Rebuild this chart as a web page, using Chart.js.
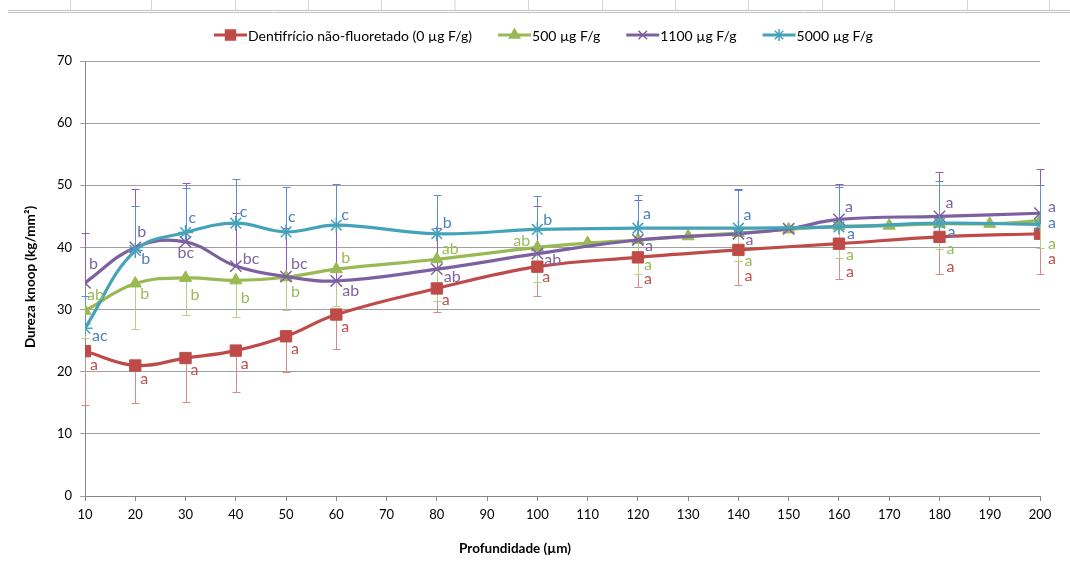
<!DOCTYPE html>
<html>
<head>
<meta charset="utf-8">
<script src="https://cdn.jsdelivr.net/npm/chart.js@4.4.1/dist/chart.umd.min.js"></script>
<style>
html,body{margin:0;padding:0;background:#fff;}
#wrap{width:1070px;height:571px;position:relative;}
</style>
</head>
<body>
<div id="wrap"><canvas id="c"></canvas></div>
<script>
// ---- data ----
const depths = [10,20,30,40,50,60,70,80,90,100,110,120,130,140,150,160,170,180,190,200];
const seriesNames = ['Dentifrício não-fluoretado (0 µg F/g)','500 µg F/g','1100 µg F/g','5000 µg F/g'];
const yTicks = [0,10,20,30,40,50,60,70];

const red    = [23.3,21.0,22.2,23.4,25.7,29.2,null,33.4,null,36.9,null,38.4,null,39.6,null,40.6,null,41.7,null,42.2];
const green  = [29.8,34.2,35.1,34.7,35.2,36.5,null,38.1,null,40.0,40.7,41.2,41.8,42.3,42.9,43.4,43.5,43.8,43.8,44.3];
const purple = [34.3,40.0,40.9,37.0,35.3,34.6,null,36.5,null,39.0,null,41.2,null,42.2,43.0,44.5,null,45.0,null,45.5];
const cyan   = [27.0,39.5,42.4,43.9,42.5,43.6,null,42.2,null,42.9,null,43.1,null,43.1,null,43.3,null,43.9,null,43.7];

// error bar end values (red/green: lower bars, purple/cyan: upper bars)
const redLow     = [14.7,14.9,15.1,16.7,20.0,23.6,null,29.6,null,32.2,null,33.7,null,34.0,null,34.9,null,35.8,null,35.8];
const greenLow   = [25.5,26.8,29.1,28.8,30.0,30.5,null,31.3,null,34.5,null,35.7,null,37.8,null,38.3,null,39.7,null,39.9];
const purpleHigh = [42.4,49.4,50.3,45.6,43.1,43.6,null,43.1,null,46.6,null,47.7,null,49.4,null,50.2,null,52.2,null,52.6];
const cyanHigh   = [32.2,46.7,49.6,51.0,49.7,50.2,null,48.4,null,48.2,null,48.5,null,49.2,null,49.8,null,50.7,null,50.0];

// significance letters
const redLetters    = ['a','a','a','a','a','a',null,'a',null,'a',null,'a',null,'a',null,'a',null,'a',null,'a'];
const greenLetters  = ['ab','b','b','b','b','b',null,'ab',null,'ab',null,'a',null,'a',null,'a',null,'a',null,'a'];
const purpleLetters = ['b','b','bc','bc','bc','ab',null,'ab',null,'ab',null,'a',null,'a',null,'a',null,'a',null,'a'];
const cyanLetters   = ['ac','b','c','c','c','c',null,'b',null,'b',null,'a',null,'a',null,'a',null,'a',null,'a'];

// letter placement offsets [dx, dy] (layout only)
const redOff    = [[5,14],[5,13],[5,12],[5,13],[5,13],[5,12],null,[5,11],null,[5,10],null,[6,21],null,[6,26],null,[7,28],null,[7,30],null,[8,25]];
const greenOff  = [[2,-16],[5,10],[5,17],[5,17],[5,15],[5,-11],null,[5,-10],null,[-24,-7],null,[6,25],null,[6,28],null,[7,29],null,[7,25],null,[8,23]];
const purpleOff = [[4,-19],[2,-16],[-8,11],[7,-7],[5,-13],[6,10],null,[7,8],null,[7,6],null,[7,6],null,[7,6],null,[6,-13],null,[6,-14],null,[8,-6]];
const cyanOff   = [[7,8],[6,8],[3,-15],[4,-11],[2,-15],[5,-10],null,[6,-11],null,[6,-10],null,[5,-14],null,[5,-13],null,[8,7],null,[8,9],null,[8,-2]];

const pts = arr => depths.map((d,i)=>arr[i]==null?null:{x:d,y:arr[i]}).filter(p=>p);

const COL = {
  red:'#BE4B48', green:'#98B954', purple:'#7D60A0', cyan:'#45A2BB',
  redBar:'#D88A88', greenBar:'#B5CF85', purpleBar:'#8E5BC6', cyanBar:'#5B8DD2',
  redTxt:'#C0504D', greenTxt:'#9BBB59', purpleTxt:'#8064A2', cyanTxt:'#4F81BD'
};
const FONT = 'Lato, "Open Sans", "Liberation Sans", sans-serif';

const barSets = [
  {vals:red, ends:redLow, color:COL.redBar},
  {vals:green, ends:greenLow, color:COL.greenBar},
  {vals:purple, ends:purpleHigh, color:COL.purpleBar},
  {vals:cyan, ends:cyanHigh, color:COL.cyanBar}
];
const letterSets = [
  {vals:red, txt:redLetters, off:redOff, color:COL.redTxt},
  {vals:green, txt:greenLetters, off:greenOff, color:COL.greenTxt},
  {vals:purple, txt:purpleLetters, off:purpleOff, color:COL.purpleTxt},
  {vals:cyan, txt:cyanLetters, off:cyanOff, color:COL.cyanTxt}
];

const sheetCols = [70,151,235,308,381,454.5,528,602,675,748,822,894,967,1049];

const decoPlugin = {
  id:'deco',
  beforeDraw(chart){
    const ctx = chart.ctx;
    ctx.save();
    ctx.fillStyle='#fff'; ctx.fillRect(0,0,chart.width,chart.height);
    ctx.strokeStyle='#D4D4D4'; ctx.lineWidth=1;
    sheetCols.forEach(x=>{ctx.beginPath();ctx.moveTo(x+0.5,0);ctx.lineTo(x+0.5,10);ctx.stroke();});
    ctx.strokeStyle='#C4C4C4';
    [10.5,12.5].forEach(y=>{ctx.beginPath();ctx.moveTo(8,y);ctx.lineTo(1070,y);ctx.stroke();});
    ctx.restore();
  },
  beforeDatasetsDraw(chart){
    const ctx = chart.ctx, xs = chart.scales.x, ys = chart.scales.y;
    ctx.save();
    ctx.lineWidth = 1;
    barSets.forEach(s=>{
      ctx.strokeStyle = s.color;
      depths.forEach((d,i)=>{
        if(s.vals[i]==null || s.ends[i]==null) return;
        const x = Math.round(xs.getPixelForValue(d))+0.5;
        const y0 = ys.getPixelForValue(s.vals[i]);
        const y1 = Math.round(ys.getPixelForValue(s.ends[i]))+0.5;
        ctx.beginPath(); ctx.moveTo(x,y0); ctx.lineTo(x,y1);
        ctx.moveTo(x-4,y1); ctx.lineTo(x+4,y1); ctx.stroke();
      });
    });
    ctx.restore();
  },
  afterDatasetsDraw(chart){
    const ctx = chart.ctx, xs = chart.scales.x, ys = chart.scales.y;
    ctx.save();
    ctx.font = '16px '+FONT;
    ctx.textAlign='left'; ctx.textBaseline='middle';
    letterSets.forEach(s=>{
      ctx.fillStyle = s.color;
      depths.forEach((d,i)=>{
        if(s.txt[i]==null || s.vals[i]==null) return;
        const o = s.off[i];
        ctx.fillText(s.txt[i], xs.getPixelForValue(d)+o[0], ys.getPixelForValue(s.vals[i])+o[1]);
      });
    });
    // axis titles
    ctx.fillStyle='#000';
    ctx.font = 'bold 13.5px '+FONT;
    ctx.textAlign='center';
    ctx.fillText('Profundidade (µm)', 515, 549);
    ctx.save();
    ctx.translate(31, 277);
    ctx.rotate(-Math.PI/2);
    ctx.fillText('Dureza knoop (kg/mm²)', 0, 0);
    ctx.restore();
    // legend
    const items = [
      {c:COL.red, s:'rect'},{c:COL.green, s:'triangle'},{c:COL.purple, s:'crossRot'},{c:COL.cyan, s:'star'}
    ];
    ctx.font = '14px '+FONT;
    ctx.textAlign='left'; ctx.textBaseline='middle';
    let x = 214; const ly = 35;
    items.forEach((it,k)=>{
      ctx.strokeStyle = it.c; ctx.lineWidth = 3;
      ctx.beginPath(); ctx.moveTo(x,ly); ctx.lineTo(x+33,ly); ctx.stroke();
      ctx.fillStyle = it.c; ctx.lineWidth = 1.5;
      Chart.helpers.drawPoint(ctx,{pointStyle:it.s, radius: it.s==='rect'?7:6, borderWidth:1.5}, x+16.5, ly);
      ctx.fillStyle='#000';
      ctx.fillText(seriesNames[k], x+34, ly+1);
      x += 34 + ctx.measureText(seriesNames[k]).width + 26;
    });
    ctx.restore();
  }
};

const mk = (label, arr, color, style, radius, order, bw) => ({
  label, data: pts(arr), borderColor: color, backgroundColor: color,
  pointBackgroundColor: color, pointBorderColor: color,
  pointStyle: style, pointRadius: radius, pointBorderWidth: bw,
  borderWidth: 3.2, tension: 0.4, order, fill:false
});

new Chart(document.getElementById('c'), {
  type:'line',
  data:{ datasets:[
    mk(seriesNames[0], red, COL.red, 'rect', 8, 4, 1),
    mk(seriesNames[1], green, COL.green, 'triangle', 7, 3, 1),
    mk(seriesNames[2], purple, COL.purple, 'crossRot', 8, 2, 1.5),
    mk(seriesNames[3], cyan, COL.cyan, 'star', 7.5, 1, 1.5)
  ]},
  options:{
    responsive:true, maintainAspectRatio:false, animation:false,
    layout:{padding:{top:61,right:30,left:0,bottom:0}},
    plugins:{legend:{display:false}, tooltip:{enabled:false}},
    scales:{
      x:{type:'linear', min:10, max:200,
         afterBuildTicks: s=>{ s.ticks = depths.map(v=>({value:v})); },
         afterFit: s=>{ s.height = 75; },
         ticks:{color:'#000', font:{size:13, family:FONT}, padding:6, maxRotation:0, autoSkip:false},
         grid:{drawOnChartArea:false, drawTicks:true, tickLength:5, color:'#868686'},
         border:{color:'#868686'}},
      y:{min:0, max:70,
         afterBuildTicks: s=>{ s.ticks = yTicks.map(v=>({value:v})); },
         afterFit: s=>{ s.width = 85; },
         ticks:{color:'#000', font:{size:13, family:FONT}, padding:8},
         grid:{color:'#A0A0A0', tickLength:5, drawTicks:true},
         border:{color:'#868686'}}
    }
  },
  plugins:[decoPlugin]
});
</script>
</body>
</html>
